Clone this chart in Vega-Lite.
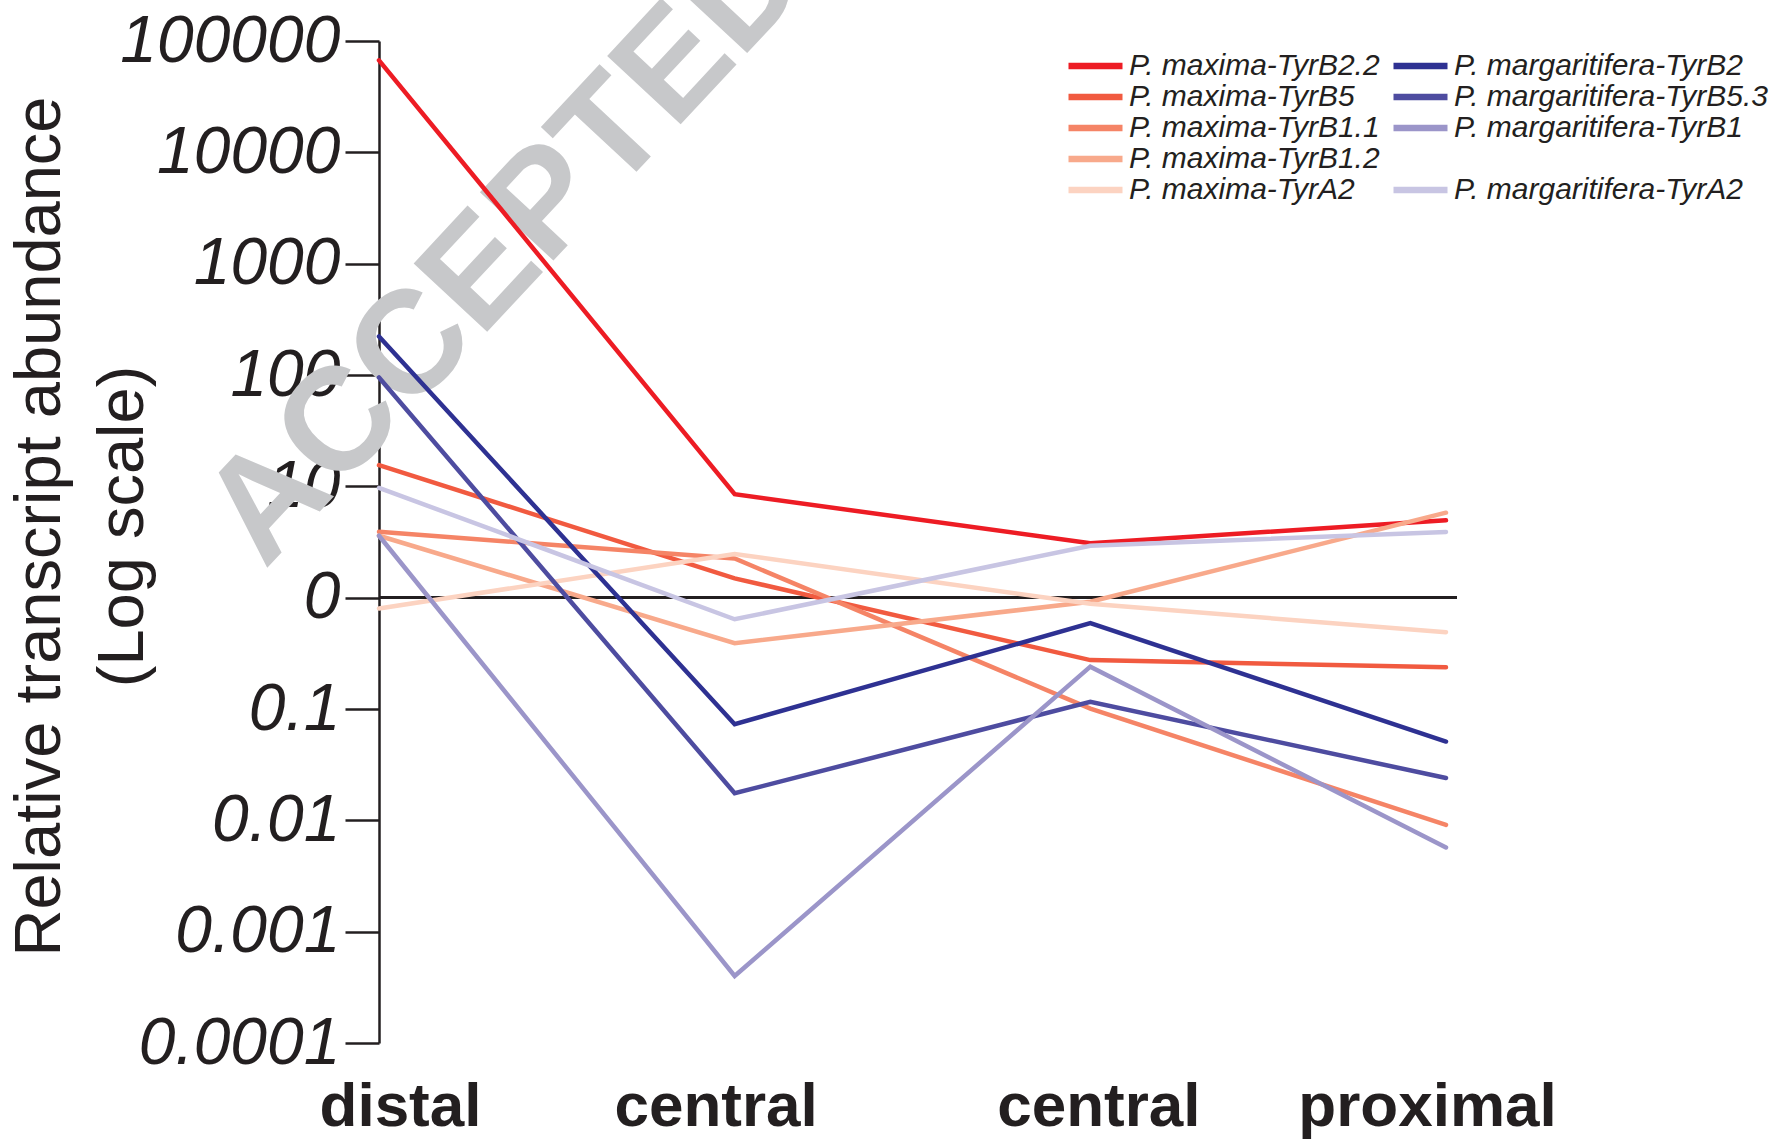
{
  "$schema": "https://vega.github.io/schema/vega-lite/v6.json",
  "width": 1067,
  "height": 1002,
  "autosize": "none",
  "padding": {"left": 379, "top": 41, "right": 337, "bottom": 96},
  "background": "white",
  "config": {"view": {"stroke": null}, "font": "Liberation Sans"},
  "data": {"values": [
    {"gene": "P. maxima-TyrB2.2", "pos": "distal", "stage": 1, "v": 67000},
    {"gene": "P. maxima-TyrB2.2", "pos": "central", "stage": 2, "v": 8.5},
    {"gene": "P. maxima-TyrB2.2", "pos": "central2", "stage": 3, "v": 3.08},
    {"gene": "P. maxima-TyrB2.2", "pos": "proximal", "stage": 4, "v": 4.95},
    {"gene": "P. maxima-TyrB5", "pos": "distal", "stage": 1, "v": 15.5},
    {"gene": "P. maxima-TyrB5", "pos": "central", "stage": 2, "v": 1.49},
    {"gene": "P. maxima-TyrB5", "pos": "central2", "stage": 3, "v": 0.275},
    {"gene": "P. maxima-TyrB5", "pos": "proximal", "stage": 4, "v": 0.237},
    {"gene": "P. maxima-TyrB1.1", "pos": "distal", "stage": 1, "v": 3.9},
    {"gene": "P. maxima-TyrB1.1", "pos": "central", "stage": 2, "v": 2.25},
    {"gene": "P. maxima-TyrB1.1", "pos": "central2", "stage": 3, "v": 0.101},
    {"gene": "P. maxima-TyrB1.1", "pos": "proximal", "stage": 4, "v": 0.0091},
    {"gene": "P. maxima-TyrB1.2", "pos": "distal", "stage": 1, "v": 3.6},
    {"gene": "P. maxima-TyrB1.2", "pos": "central", "stage": 2, "v": 0.39},
    {"gene": "P. maxima-TyrB1.2", "pos": "central2", "stage": 3, "v": 0.92},
    {"gene": "P. maxima-TyrB1.2", "pos": "proximal", "stage": 4, "v": 5.8},
    {"gene": "P. maxima-TyrA2", "pos": "distal", "stage": 1, "v": 0.8},
    {"gene": "P. maxima-TyrA2", "pos": "central", "stage": 2, "v": 2.47},
    {"gene": "P. maxima-TyrA2", "pos": "central2", "stage": 3, "v": 0.88},
    {"gene": "P. maxima-TyrA2", "pos": "proximal", "stage": 4, "v": 0.49},
    {"gene": "P. margaritifera-TyrB2", "pos": "distal", "stage": 1, "v": 222},
    {"gene": "P. margaritifera-TyrB2", "pos": "central", "stage": 2, "v": 0.073},
    {"gene": "P. margaritifera-TyrB2", "pos": "central2", "stage": 3, "v": 0.59},
    {"gene": "P. margaritifera-TyrB2", "pos": "proximal", "stage": 4, "v": 0.051},
    {"gene": "P. margaritifera-TyrB5.3", "pos": "distal", "stage": 1, "v": 95},
    {"gene": "P. margaritifera-TyrB5.3", "pos": "central", "stage": 2, "v": 0.0175},
    {"gene": "P. margaritifera-TyrB5.3", "pos": "central2", "stage": 3, "v": 0.116},
    {"gene": "P. margaritifera-TyrB5.3", "pos": "proximal", "stage": 4, "v": 0.024},
    {"gene": "P. margaritifera-TyrB1", "pos": "distal", "stage": 1, "v": 3.6},
    {"gene": "P. margaritifera-TyrB1", "pos": "central", "stage": 2, "v": 0.0004},
    {"gene": "P. margaritifera-TyrB1", "pos": "central2", "stage": 3, "v": 0.24},
    {"gene": "P. margaritifera-TyrB1", "pos": "proximal", "stage": 4, "v": 0.0057},
    {"gene": "P. margaritifera-TyrA2", "pos": "distal", "stage": 1, "v": 9.7},
    {"gene": "P. margaritifera-TyrA2", "pos": "central", "stage": 2, "v": 0.64},
    {"gene": "P. margaritifera-TyrA2", "pos": "central2", "stage": 3, "v": 2.93},
    {"gene": "P. margaritifera-TyrA2", "pos": "proximal", "stage": 4, "v": 3.89}
  ]},
  "layer": [
    {
      "data": {"values": [{"label": "ACCEPTED"}]},
      "mark": {"type": "text", "font": "Liberation Sans", "fontWeight": "bold", "fontSize": 146, "color": "#c7c8ca", "angle": 313, "align": "center", "baseline": "middle", "dx": 87, "dy": 93},
      "encoding": {
        "text": {"field": "label"},
        "x": {"datum": "distal", "type": "ordinal", "scale": {"type": "point", "domain": ["distal", "central", "central2", "proximal"], "padding": 0}},
        "y": {"datum": 1413, "type": "quantitative", "scale": {"type": "log", "domain": [0.0001, 100000]}}
      }
    },
    {
      "mark": {"type": "rule", "color": "#231f20", "strokeWidth": 2.5, "x2Offset": 11},
      "encoding": {
        "x": {"datum": "distal", "type": "ordinal", "scale": {"type": "point", "domain": ["distal", "central", "central2", "proximal"], "padding": 0}},
        "x2": {"datum": "proximal"},
        "y": {"datum": 1, "type": "quantitative", "scale": {"type": "log", "domain": [0.0001, 100000]}}
      }
    },
    {
      "mark": {"type": "line", "strokeWidth": 4.5, "strokeCap": "round", "strokeJoin": "miter"},
      "encoding": {
        "x": {
          "field": "pos", "type": "ordinal",
          "scale": {"type": "point", "domain": ["distal", "central", "central2", "proximal"], "padding": 0},
          "axis": {
            "title": null, "domain": false, "ticks": false, "tickSize": 0, "labelAngle": 0, "labelAlign": "center",
            "labelExpr": "datum.value == 'central2' ? 'central' : datum.value",
            "labelFont": "Liberation Sans", "labelFontWeight": "bold", "labelFontSize": 62, "labelColor": "#231f20",
            "labelPadding": 63, "labelOverlap": false, "labelLimit": 0, "labelFlush": false,
            "labelOffset": {"condition": [{"test": "datum.value == 'distal'", "value": 21}, {"test": "datum.value == 'central2'", "value": 8}], "value": -19}
          }
        },
        "y": {
          "field": "v", "type": "quantitative",
          "scale": {"type": "log", "domain": [0.0001, 100000]},
          "axis": {
            "values": [0.0001, 0.001, 0.01, 0.1, 1, 10, 100, 1000, 10000, 100000],
            "labelExpr": "datum.value == 1 ? '0' : format(datum.value, '~f')",
            "grid": false,
            "domainColor": "#231f20", "domainWidth": 2.5,
            "tickColor": "#231f20", "tickWidth": 2.5, "tickSize": 34,
            "labelFont": "Liberation Sans", "labelFontStyle": "italic", "labelFontSize": 66, "labelColor": "#231f20",
            "labelPadding": 5, "labelBaseline": "middle", "labelFlush": false, "labelOverlap": false, "labelLimit": 0,
            "title": ["Relative transcript abundance", "(Log scale)"],
            "titleFont": "Liberation Sans", "titleFontSize": 65, "titleFontWeight": "normal", "titleColor": "#231f20",
            "titleAngle": 270, "titleAlign": "center", "titleBaseline": "top", "titleLineHeight": 83,
            "titleX": -371, "titleY": 485, "titleLimit": 0
          }
        },
        "order": {"field": "stage"},
        "color": {
          "field": "gene", "type": "nominal",
          "scale": {
            "domain": ["P. maxima-TyrB2.2", "P. maxima-TyrB5", "P. maxima-TyrB1.1", "P. maxima-TyrB1.2", "P. maxima-TyrA2", "P. margaritifera-TyrB2", "P. margaritifera-TyrB5.3", "P. margaritifera-TyrB1", " ", "P. margaritifera-TyrA2"],
            "range": ["#ed1c24", "#f15a40", "#f58466", "#f8a98b", "#fcd3c1", "#2e3192", "#4e4ca0", "#9b95c9", "#ffffff", "#c8c5e3"]
          },
          "legend": {
            "orient": "none", "legendX": 686, "legendY": 12, "columns": 2, "title": null,
            "symbolType": "stroke", "symbolSize": 2916, "symbolStrokeWidth": 6.5,
            "labelFont": "Liberation Sans", "labelFontStyle": "italic", "labelFontSize": 30, "labelColor": "#231f20",
            "labelOffset": 3, "columnPadding": 10, "rowPadding": 1, "clipHeight": 26, "labelLimit": 0
          }
        }
      }
    }
  ]
}
